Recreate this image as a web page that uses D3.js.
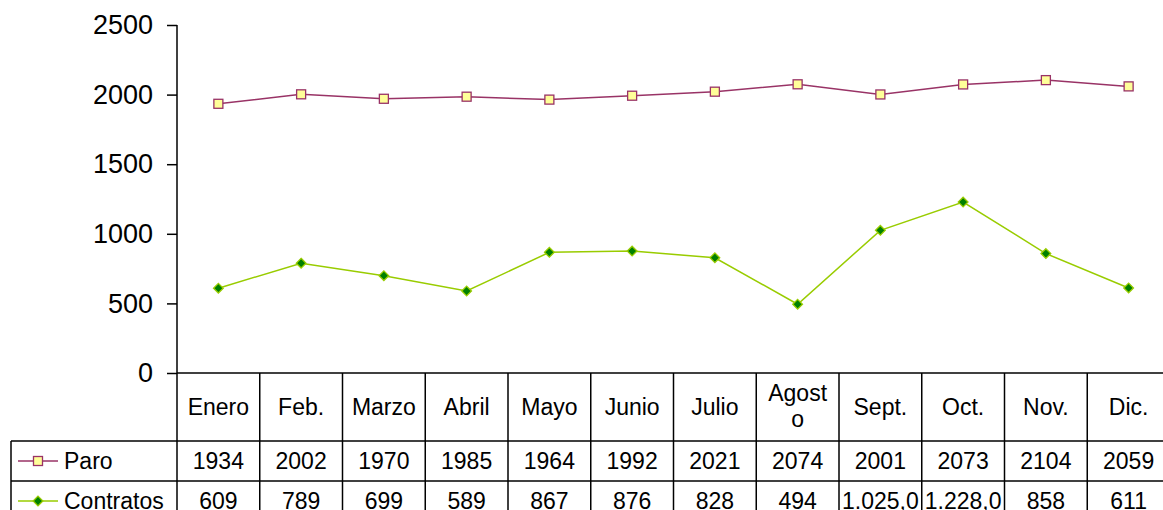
<!DOCTYPE html>
<html>
<head>
<meta charset="utf-8">
<script src="https://cdn.jsdelivr.net/npm/d3@7"></script>
<style>
  body { margin: 0; background: #fff; }
  svg { display: block; font-family: "Liberation Sans", Arial, sans-serif; }
</style>
</head>
<body>
<div id="chart"></div>
<script>
// data
var months = ["Enero", "Feb.", "Marzo", "Abril", "Mayo", "Junio", "Julio", "Agosto", "Sept.", "Oct.", "Nov.", "Dic."];
var paro = [1934, 2002, 1970, 1985, 1964, 1992, 2021, 2074, 2001, 2073, 2104, 2059];
var contratos = [609, 789, 699, 589, 867, 876, 828, 494, 1025, 1228, 858, 611];
var contratosLabels = ["609", "789", "699", "589", "867", "876", "828", "494", "1.025,0", "1.228,0", "858", "611"];
var yTicks = [0, 500, 1000, 1500, 2000, 2500];

var width = 1163, height = 510;
var plotLeft = 177, plotTop = 25, plotBottom = 373, colW = 82.75;
var rowH = [68, 40, 40];
var cellFont = 23;

var svg = d3.select("#chart").append("svg")
    .attr("width", width)
    .attr("height", height);

var x = d3.scaleBand()
    .domain(months)
    .range([plotLeft, plotLeft + colW * months.length]);

var y = d3.scaleLinear()
    .domain([0, 2500])
    .range([plotBottom, plotTop]);

// y axis
var yAxis = d3.axisLeft(y).tickValues(yTicks).tickFormat(d3.format("d")).tickSize(10).tickPadding(14);
var gy = svg.append("g")
    .attr("transform", "translate(" + plotLeft + ",0)")
    .call(yAxis);
gy.select(".domain").attr("stroke", "#000").attr("stroke-width", 1.5)
    .attr("d", "M0," + plotTop + "V" + plotBottom);
gy.selectAll(".tick line").attr("stroke", "#000").attr("stroke-width", 1.5);
gy.selectAll(".tick text")
    .attr("font-size", 27)
    .attr("font-family", "Liberation Sans, Arial, sans-serif")
    .attr("fill", "#000");

// lines
var line = d3.line()
    .x(function(d, i){ return x(months[i]) + x.bandwidth() / 2; })
    .y(function(d){ return y(d); });

svg.append("path")
    .attr("d", line(paro))
    .attr("fill", "none")
    .attr("stroke", "#993366")
    .attr("stroke-width", 1.5);

svg.append("path")
    .attr("d", line(contratos))
    .attr("fill", "none")
    .attr("stroke", "#99CC00")
    .attr("stroke-width", 1.5);

// markers
svg.selectAll(".paro-mk")
    .data(paro)
    .enter()
    .append("rect")
    .attr("class", "paro-mk")
    .attr("x", function(d, i){ return x(months[i]) + x.bandwidth() / 2 - 4.5; })
    .attr("y", function(d){ return y(d) - 4.5; })
    .attr("width", 9)
    .attr("height", 9)
    .attr("fill", "#FFFF99")
    .attr("stroke", "#993366")
    .attr("stroke-width", 1.3);

var diamond = d3.symbol().type(d3.symbolDiamond2).size(60);
svg.selectAll(".con-mk")
    .data(contratos)
    .enter()
    .append("path")
    .attr("class", "con-mk")
    .attr("d", diamond)
    .attr("transform", function(d, i){ return "translate(" + (x(months[i]) + x.bandwidth() / 2) + "," + y(d) + ")"; })
    .attr("fill", "#008000")
    .attr("stroke", "#99CC00")
    .attr("stroke-width", 1.3);

// data table
var tbl = svg.append("g").attr("class", "table");
var r0 = plotBottom, r1 = r0 + rowH[0], r2 = r1 + rowH[1], r3 = r2 + rowH[2];
var legLeft = 11;

// horizontal lines
tbl.append("line").attr("x1", plotLeft).attr("x2", width).attr("y1", r0).attr("y2", r0);
tbl.append("line").attr("x1", legLeft).attr("x2", width).attr("y1", r1).attr("y2", r1);
tbl.append("line").attr("x1", legLeft).attr("x2", width).attr("y1", r2).attr("y2", r2);
tbl.append("line").attr("x1", legLeft).attr("x2", legLeft).attr("y1", r1).attr("y2", r3);

tbl.selectAll(".vline")
    .data(months)
    .enter()
    .append("line")
    .attr("class", "vline")
    .attr("x1", function(d){ return x(d); })
    .attr("x2", function(d){ return x(d); })
    .attr("y1", r0)
    .attr("y2", r3);
tbl.selectAll("line").attr("stroke", "#000").attr("stroke-width", 1.5);

// header labels (Agosto wraps as in the original)
tbl.selectAll(".hdr")
    .data(months)
    .enter()
    .append("text")
    .attr("class", "hdr")
    .attr("x", function(d){ return x(d) + x.bandwidth() / 2; })
    .attr("y", r0 + rowH[0] / 2 + 8)
    .attr("text-anchor", "middle")
    .attr("font-size", cellFont)
    .each(function(d){
        var t = d3.select(this);
        if (d === "Agosto") {
            t.attr("y", r0 + 28);
            t.append("tspan").attr("x", x(d) + x.bandwidth() / 2).text("Agost");
            t.append("tspan").attr("x", x(d) + x.bandwidth() / 2).attr("dy", 26).text("o");
        } else {
            t.text(d);
        }
    });

tbl.selectAll(".paro-val")
    .data(paro)
    .enter()
    .append("text")
    .attr("x", function(d, i){ return x(months[i]) + x.bandwidth() / 2; })
    .attr("y", r1 + rowH[1] / 2 + 8)
    .attr("text-anchor", "middle")
    .attr("font-size", cellFont)
    .text(function(d){ return d; });

tbl.selectAll(".con-val")
    .data(contratosLabels)
    .enter()
    .append("text")
    .attr("x", function(d, i){ return x(months[i]) + x.bandwidth() / 2; })
    .attr("y", r2 + rowH[2] / 2 + 8)
    .attr("text-anchor", "middle")
    .attr("font-size", cellFont)
    .text(function(d){ return d; });

// legend keys in the table
var kx1 = 18, kx2 = 58;
var ky1 = r1 + rowH[1] / 2, ky2 = r2 + rowH[2] / 2;
tbl.append("line").attr("x1", kx1).attr("x2", kx2).attr("y1", ky1).attr("y2", ky1)
    .attr("stroke", "#993366").attr("stroke-width", 1.5);
tbl.append("rect").attr("x", (kx1 + kx2) / 2 - 4.5).attr("y", ky1 - 4.5).attr("width", 9).attr("height", 9)
    .attr("fill", "#FFFF99").attr("stroke", "#993366").attr("stroke-width", 1.3);
tbl.append("text").attr("x", 64).attr("y", ky1 + 8).attr("font-size", cellFont).text("Paro");

tbl.append("line").attr("x1", kx1).attr("x2", kx2).attr("y1", ky2).attr("y2", ky2)
    .attr("stroke", "#99CC00").attr("stroke-width", 1.5);
tbl.append("path").attr("d", diamond)
    .attr("transform", "translate(" + ((kx1 + kx2) / 2) + "," + ky2 + ")")
    .attr("fill", "#008000").attr("stroke", "#99CC00").attr("stroke-width", 1.3);
tbl.append("text").attr("x", 64).attr("y", ky2 + 8).attr("font-size", cellFont).text("Contratos");
</script>
</body>
</html>
